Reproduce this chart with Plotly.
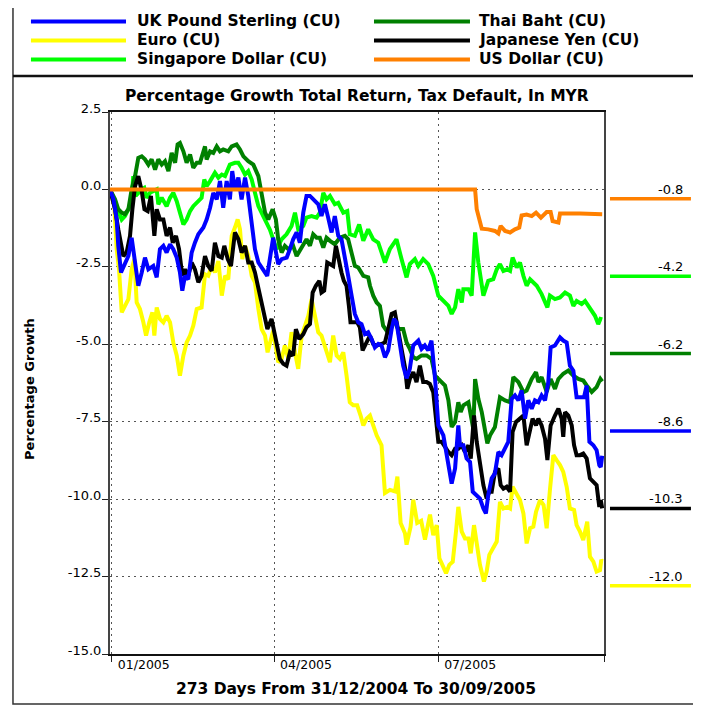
import plotly.graph_objects as go
import pandas as pd

START = pd.Timestamp("2004-12-31")

# ---- data (day offsets from 31/12/2004, percentage growth) ----
gbp_days = [0, 1.9, 3.7, 4.6, 6.1, 8.3, 10.2, 12, 13.9, 15.7, 17.6, 19.4, 21.3, 24, 25.9, 27.7, 29.6, 31.4, 33.3, 35.1, 37, 38.8, 40.1, 41.6, 43.4, 45.3, 47.1, 49, 51.8, 53.6, 55.5, 57.3, 59.2, 61, 62.8, 64.7, 66.5, 67.8, 69.3, 71.2, 73, 74.9, 76.7, 78.6, 80.4, 82.3, 85, 87.2,
            90.5, 93.3, 95.2, 98, 99.8, 101.6, 103.5, 105.3, 107.2, 109, 110.9, 112.7, 115.5, 117.3, 119.2, 121, 122.9, 124.7, 126.6, 128.4, 130.3, 132.1, 134, 135.8, 137.7, 139.5, 141.4, 143.2, 145.1, 146.9, 148.8, 150.6, 152.5, 154.3, 156.2, 157.5, 158.9, 160.8, 162.6, 164.5, 166.3, 168.2, 171, 172.8, 174.6, 176.5, 178.3,
            180.3, 182.1, 184.9, 186.7, 188.2, 189.5, 191.4, 193.2, 194.1, 196, 197.8, 199.7, 201.2, 203.4, 205.2, 207.1, 208.5, 209.8, 211.7, 213.5, 215.4, 217.2, 219.1, 220.9, 222.8, 224.6, 226.5, 228.3, 230.2, 232, 233.9, 235.7, 237.6, 239.4, 241.3, 243.1, 244.4, 246.8, 249.6, 251.4, 253.3, 255.1, 257, 258.8, 260.7, 262.9, 264.4, 265.9, 268.1, 269.9, 271.4, 272.2, 273]
gbp_vals = [0, -0.32, -0.97, -1.82, -2.68, -2.36, -2.15, -1.56, -2.36, -3.11, -2.68, -2.2, -2.58, -2.47, -2.84, -1.93, -1.82, -2.04, -1.77, -1.93, -2.2, -2.68, -3.27, -2.79, -2.9, -2.04, -1.72, -1.45, -1.23, -0.97, -0.59, -0.11, -0.32, 0.27, -0.59, 0.27, -0.32, 0.59, 0, 0.38, -0.32, 0.38, -0.21, -1.07, -1.93, -2.36, -2.58, -2.79,
            -1.56, -2.41, -2.25, -2.2, -1.93, -1.61, -1.39, -1.72, -0.75, -0.21, -0.21, -0.32, -0.48, -0.86, -0.48, -0.91, -1.39, -0.86, -1.5, -1.61, -2.15, -2.79, -3.43, -4.02, -4.29, -4.35, -4.67, -4.61, -4.83, -5.1, -4.99, -5.04, -5.42, -5.2, -4.51, -4.18, -4.29, -5.04, -5.69, -6.1, -5.79, -5.04, -4.88, -5.15, -5.04, -5.2, -4.88,
            -6.12, -7.62, -7.94, -8.58, -9.01, -9.5, -9.01, -7.62, -8.26, -8.26, -8.69, -8.8, -9.76, -9.87, -9.98, -10.3, -10.46, -9.87, -9.33, -9.17, -8.48, -8.58, -8.32, -8.15, -6.76, -6.65, -6.81, -6.49, -7.4, -6.81, -7.08, -6.81, -6.87, -6.65, -6.81, -6.22, -5.1, -5.04, -4.78, -4.88, -4.94, -5.69, -5.85, -6.71, -6.71, -6.71, -6.33, -8.15, -8.26, -8.42, -8.9, -8.96, -8.6]

eur_days = [0, 2.4, 3.7, 5, 6.5, 8.3, 10.2, 12, 13.5, 14.8, 16.6, 18.5, 20, 21.8, 23.5, 24.6, 25.9, 27.7, 29.6, 31.4, 33.3, 35.1, 37, 38.8, 40.7, 42.5, 44.4, 46.2, 48.1, 50.8, 52.7, 54.5, 56.4, 58.2, 60.1, 62, 63.8, 65.6, 67.5, 69.3, 70.8, 72.1, 73.4, 74.9, 76.7, 78.6, 80.4, 82.3, 84.1, 86, 87.4,
            90.5, 93.3, 95.2, 97, 98.9, 100.7, 102.6, 104.4, 106.3, 108.1, 110, 111.8, 113.7, 115.5, 117.3, 119.2, 121, 122, 123.8, 125.7, 127.5, 129.4, 131.2, 133, 134.9, 137.1, 139, 140.5, 142.3, 144.2, 146, 147.9, 150.6,
            152.5, 155.3, 158.1, 159.4, 161.2, 163.6, 164.5, 166.7, 168.2, 170.4, 172.6, 174.7, 177.5,
            179.3, 181.2, 182.7, 184.5, 186.4, 188.2, 190.1, 191.9, 193.2, 195.1, 196.9, 198.8, 200.1, 201.9, 203.4, 205.2, 207.4, 208.9, 210.4, 212.6, 214.5, 216.3, 218.2, 220.4, 221.9, 223.3, 225.6, 227.4, 229.3, 231.1, 233, 234.8, 236.3, 238.5, 240.5, 242.2, 244, 245.9, 247.7, 249.6, 251.4, 253.3, 255.1, 257.4, 258.8, 260.7, 262.5, 264.7, 266.2, 268.1, 269.9, 271.8, 272.5, 273]
eur_vals = [0, -0.54, -1.93, -2.58, -3.97, -3.76, -3.54, -2.58, -2.25, -3.65, -3.86, -4.29, -4.72, -4.29, -3.97, -4.72, -3.81, -4.18, -4.29, -4.08, -4.29, -4.94, -5.36, -6.01, -5.36, -4.94, -4.72, -4.4, -3.86, -3.81, -2.74, -2.79, -2.47, -2.68, -2.31, -3.43, -2.79, -2.9, -1.5, -1.23, -0.97, -1.29, -2.25, -1.82, -2.15, -2.79, -3.0, -3.86, -4.51, -4.72, -5.26,
            -4.56, -5.58, -5.47, -5.04, -5.47, -4.61, -5.26, -5.79, -4.72, -4.4, -4.08, -3.54, -4.08, -4.61, -4.72, -5.04, -5.36, -5.58, -4.72, -5.36, -5.47, -5.26, -6.01, -6.87, -6.97, -6.97, -7.3, -7.62, -7.4, -7.3, -7.62, -7.94, -8.26,
            -9.8, -9.7, -9.75, -9.27, -10.77, -11.1, -11.47, -10.9, -10.02, -10.77, -10.7, -11.31, -10.5,
            -11.16, -10.84, -11.91, -12.18, -12.39, -12.12, -12.02, -11.05, -10.25, -11.05, -11.27, -11.27, -11.75, -10.84, -11.37, -12.12, -12.66, -12.34, -11.8, -11.59, -11.37, -10.09, -10.3, -10.25, -10.3, -9.6, -9.87, -10.03, -10.46, -11.43, -10.94, -10.89, -10.41, -10.03, -10.19, -10.94, -9.71, -8.58, -8.74, -8.9, -9.12, -9.6, -10.3, -10.35, -10.84, -11.05, -11.32, -10.73, -11.86, -12.02, -12.34, -12.29, -11.96, -12.0]

sgd_days = [0, 2.8, 4.6, 6.5, 8.3, 10.2, 12, 12.9, 14.2, 15.7, 17.6, 19, 20.3, 22.2, 24, 25.9, 26.8, 28.7, 31.4, 33.3, 35.1, 37, 38.8, 40.7, 42.5, 44.4, 46.2, 48.1, 50.8, 52.3, 53.6, 55.5, 58.2, 60.1, 62, 63.8, 66.5, 69.3, 71.2, 73, 74.9, 76.7, 78.6, 80.4, 82.3, 85, 86.9,
            88.7, 92.4, 95.2, 97.9, 100.7, 102.6, 104.4, 107.2, 109, 111.8, 114.6, 116.4, 118.3, 120.1, 122, 124.7, 126.6, 129.4, 131.6, 133, 135.8, 138.2, 140.5, 143.2, 146, 148.8, 152.5, 155.2, 158.9, 161.7, 164.5, 166.3, 169.1, 171, 173.7, 176.5,
            179.3, 182.1, 184.9, 187.7, 189.5, 191.4, 193.2, 195.1, 196, 198.8, 200.6, 202.5, 204.3, 207.1, 209.8, 212.6, 214.5, 216.3, 218.2, 220.4, 221.9, 223.3, 225.6, 227.4, 229.3, 231.1, 233, 236.7, 239.4, 242.6, 244, 246.8, 249.6, 252.4, 255.1, 257, 258.8, 261.6, 263.5, 266.2, 269, 270.8, 272, 273]
sgd_vals = [0, -0.43, -0.75, -0.97, -0.86, -0.64, -0.32, 0.43, -0.21, -0.11, 0, 0.05, -0.27, -0.11, -0.05, 0, -0.48, -0.27, -0.54, -0.27, -0.11, -0.38, -0.75, -1.13, -0.97, -0.7, -0.54, -0.43, -0.27, 0.32, 0.11, 0.27, 0.54, 0.38, 0.48, 0.43, 0.8, 0.86, 0.86, 0.7, 0.48, 0.59, 0.32, -0.11, -0.54, -0.86, -1.07,
            -1.3, -1.93, -1.61, -1.45, -1.18, -0.75, -1.29, -1.18, -0.91, -0.86, -0.91, -0.75, -0.11, -0.32, -0.21, -0.48, -0.43, -0.75, -0.7, -1.45, -1.5, -1.13, -1.66, -1.29, -1.61, -1.72, -2.36, -1.93, -1.61, -2.25, -2.84, -2.41, -2.25, -2.47, -2.25, -2.41,
            -2.79, -3.43, -3.6, -3.76, -4.02, -3.81, -3.22, -3.65, -3.22, -3.22, -3.43, -1.39, -2.36, -3.43, -2.95, -2.9, -2.58, -2.41, -2.63, -2.58, -2.63, -2.2, -2.52, -2.36, -2.79, -3.11, -2.9, -3.11, -3.38, -3.81, -3.43, -3.54, -3.49, -3.33, -3.43, -3.76, -3.6, -3.7, -3.6, -3.86, -4.08, -4.35, -4.18, -4.2]

thb_days = [0, 2.8, 4.6, 6.5, 8.3, 10.2, 12, 13.9, 15.7, 17.6, 19.4, 21.3, 23.1, 25, 26.8, 28.7, 30.5, 32.4, 34.2, 36.1, 37.5, 38.8, 40.7, 42.5, 44.4, 46.2, 48.1, 49.9, 52.7, 53.6, 55.5, 57.3, 59.2, 61, 62.8, 65.6, 67.5, 70.2, 72.1, 74, 76.7, 79.5, 82.3, 84.1, 86, 87.8,
            90.2, 92, 93.3, 95.2, 97, 98.9, 101.6, 103.5, 105.3, 107.2, 109, 110.9, 112.7, 114.6, 116.4, 118.3, 120.1, 122, 124.7, 127.5, 130.3, 132.1, 134, 135.8, 137.7, 140.5, 143.2, 144.2, 146, 147.9, 149.7, 151.5, 153.4, 155.2, 157.1, 159.9, 162.6, 164.5, 166.3, 168.2, 170, 172.8, 175.6, 178.3,
            180.3, 183, 185.8, 187.7, 189.5, 191.4, 193.2, 194.5, 196, 198.8, 200.6, 201.5, 202.5, 204.3, 206.2, 209.3, 210.8, 213.5, 216.3, 219.1, 221.9, 223.7, 226.5, 229.3, 231.1, 233.9, 236.3, 237.6, 239.4, 242.2, 244.4, 246.8, 248.7, 251.4, 254.2, 257, 259.8, 262.5, 264.4, 267.2, 269.9, 272, 273]
thb_vals = [0, -0.32, -0.64, -0.75, -0.8, -0.64, 0, 0.43, 1.02, 1.07, 0.97, 0.8, 0.97, 0.64, 0.97, 0.8, 0.91, 0.59, 1.18, 0.86, 1.45, 1.5, 1.23, 0.86, 1.13, 0.7, 0.86, 0.86, 1.39, 0.97, 1.23, 1.18, 1.39, 1.23, 1.29, 1.23, 1.39, 1.45, 1.29, 1.07, 0.91, 0.8, 0.43, -0.21, -0.75, -0.97,
            -0.64, -0.97, -1.61, -2.04, -1.82, -1.93, -1.82, -2.15, -1.98, -1.82, -1.61, -1.82, -1.45, -1.56, -1.56, -1.88, -1.56, -1.66, -1.77, -1.56, -1.5, -1.61, -2.04, -2.47, -2.52, -2.79, -2.84, -3.11, -3.43, -3.65, -3.76, -4.4, -4.56, -4.56, -4.18, -4.51, -4.51, -4.94, -5.15, -5.42, -5.47, -5.36, -5.36, -5.47,
            -6.01, -6.17, -6.33, -6.81, -7.67, -7.51, -6.87, -7.19, -6.97, -6.87, -7.4, -7.73, -6.12, -6.76, -7.19, -8.2, -7.94, -7.67, -6.71, -6.81, -6.87, -6.06, -6.22, -6.54, -6.49, -6.12, -5.9, -6.22, -6.06, -6.54, -6.12, -6.44, -6.12, -5.95, -5.85, -6.01, -6.12, -6.17, -6.33, -6.54, -6.38, -6.12, -6.2]

jpy_days = [0, 2.8, 4.6, 6.1, 7.4, 9.2, 11.1, 12.4, 13.9, 15.7, 17.6, 19.1, 20.9, 22.7, 24.6, 25.9, 27.7, 29.6, 31.4, 33.3, 34.8, 36.6, 38.3, 40.1, 41.6, 43.4, 45.3, 47.1, 49, 50.8, 52.7, 54.5, 56.4, 58.2, 60.1, 62, 63.4, 65.3, 67.1, 69.3, 71.2, 73, 74.9, 76.7, 78.6, 80.4, 83.2, 85, 87.3,
            89.6, 91.5, 94.2, 96.1, 97.9, 99.8, 101.6, 103.1, 105, 107.2, 109, 110.9, 112.4, 114.2, 116.1, 117.3, 118.8, 120.5, 122, 123.8, 125.3, 126.6, 128.4, 129.7, 131.2, 132.5, 133.4, 134.9, 137.1, 138.6, 140.1, 142.3, 144.2, 146, 147.9, 150.6, 152.5, 154.3, 156.2, 158, 159.9, 161.7, 163.6, 164.9, 166.3, 168.2, 170, 171.9, 173.7, 175.6, 177.4,
            179.3, 180.8, 182.1, 184, 185.8, 187.7, 189.5, 191.4, 193.2, 195.1, 196.9, 198.8, 200.1, 201.9, 203.4, 205.2, 207.1, 208.9, 210.4, 211.7, 213.5, 215.4, 216.7, 218.2, 220, 221.9, 223.3, 225.2, 227.4, 229.3, 231.1, 233, 234.4, 236.3, 237.6, 239.4, 241.3, 242.6, 244.4, 246.8, 248.7, 250.5, 251.4, 252.4, 254.2, 256.1, 257.4, 258.8, 260.7, 262.5, 264.4, 266.2, 268.1, 269.9, 271.4, 272.2, 273]
jpy_vals = [0, -0.64, -1.29, -1.72, -2.15, -2.04, -1.5, -0.64, 0.11, 0.43, -0.05, -0.64, -0.7, -0.21, -1.5, -0.64, -0.97, -0.97, -1.5, -1.23, -1.72, -1.5, -1.93, -2.79, -2.58, -2.79, -2.36, -2.58, -3.0, -2.79, -2.15, -2.47, -2.63, -1.72, -2.15, -2.2, -1.82, -2.25, -2.47, -1.39, -1.61, -2.04, -1.82, -2.36, -2.36, -2.68, -3.43, -3.97, -4.51,
            -4.18, -4.72, -5.47, -5.63, -5.69, -5.26, -5.36, -4.51, -4.83, -4.67, -4.45, -4.35, -3.33, -3.11, -2.95, -3.33, -3.27, -2.36, -2.41, -2.47, -1.82, -2.25, -2.68, -2.95, -3.11, -3.76, -4.29, -4.29, -4.29, -4.45, -5.2, -4.94, -4.72, -4.99, -5.04, -4.99, -4.94, -4.51, -4.02, -3.97, -4.51, -5.15, -5.74, -6.44, -6.12, -5.9, -6.22, -5.69, -6.22, -6.22, -6.28,
            -6.55, -7.4, -8.15, -8.15, -8.32, -8.48, -8.58, -8.37, -8.37, -8.26, -8.48, -8.26, -8.69, -7.3, -8.15, -8.9, -9.55, -9.98, -9.76, -9.76, -9.12, -9.01, -9.55, -9.66, -9.6, -9.76, -7.83, -7.51, -7.4, -7.3, -8.26, -7.83, -7.4, -7.62, -7.4, -7.62, -8.05, -8.74, -7.62, -7.3, -7.08, -7.4, -7.99, -7.19, -7.3, -7.62, -8.26, -8.58, -8.58, -8.53, -8.69, -9.33, -9.44, -9.55, -10.25, -10.03, -10.3]

usd_days = [0, 202.5, 203.4, 206.2, 209.8, 213.5, 215.4, 216.7, 219.1, 221.9, 224.6, 227, 228.3, 231.1, 233.9, 236.3, 239, 242.2, 244.4, 245.5, 248.7, 249.6, 260.7, 273]
usd_vals = [0, 0, -0.64, -1.27, -1.29, -1.34, -1.42, -1.18, -1.34, -1.39, -1.29, -1.23, -0.84, -0.81, -0.86, -0.75, -0.91, -0.73, -0.73, -1.02, -1.07, -0.78, -0.78, -0.8]

series_names = ["UK Pound Sterling (CU)", "Euro (CU)", "Singapore Dollar (CU)",
                "Thai Baht (CU)", "Japanese Yen (CU)", "US Dollar (CU)"]
series_colors = ["#0000FF", "#FFFF00", "#00FF00", "#008000", "#000000", "#FF8000"]
series_days = [gbp_days, eur_days, sgd_days, thb_days, jpy_days, usd_days]
series_vals = [gbp_vals, eur_vals, sgd_vals, thb_vals, jpy_vals, usd_vals]

y_tick_vals = [-15.0, -12.5, -10.0, -7.5, -5.0, -2.5, 0.0, 2.5]
y_tick_labels = ["-15.0", "-12.5", "-10.0", "-7.5", "-5.0", "-2.5", "0.0", "2.5"]
x_tick_vals = ["2005-01-01", "2005-04-01", "2005-07-01", "2005-10-01"]
x_tick_labels = ["01/2005", "04/2005", "07/2005", ""]

FONT = "DejaVu Sans"
Y_MIN, Y_MAX = -15.0, 2.5


def to_dates(days):
    return [START + pd.Timedelta(days=d) for d in days]


def ypaper(v):
    return (v - Y_MIN) / (Y_MAX - Y_MIN)


fig = go.Figure()
draw_order = [1, 2, 3, 4, 0, 5]
for i in draw_order:
    fig.add_trace(go.Scatter(
        x=to_dates(series_days[i]), y=series_vals[i], mode="lines",
        name=series_names[i], line=dict(color=series_colors[i], width=4),
        showlegend=False))

shapes = []
annotations = []

# outer frame and legend separator
shapes.append(dict(type="rect", xref="paper", yref="paper", x0=-0.1964, x1=1.1862,
                   y0=-0.0923, y1=1.1974, line=dict(color="#333333", width=1.5)))
shapes.append(dict(type="line", xref="paper", yref="paper", x0=-0.1964, x1=1.1862,
                   y0=1.0664, y1=1.0664, line=dict(color="#111111", width=2.5)))

# custom legend (two columns)
leg_rows = [1.1670, 1.1320, 1.0970]
leg_cols = [(-0.160, 0.0324, 0.0506), (0.5344, 0.7287, 0.7429)]
for k in range(6):
    col = k // 3
    row = k % 3
    x0, x1, xt = leg_cols[col]
    yy = leg_rows[row]
    shapes.append(dict(type="line", xref="paper", yref="paper", x0=x0, x1=x1, y0=yy, y1=yy,
                       line=dict(color=series_colors[k], width=4)))
    annotations.append(dict(xref="paper", yref="paper", x=xt, y=yy, xanchor="left", yanchor="middle",
                            text="<b>%s</b>" % series_names[k], showarrow=False,
                            font=dict(family=FONT, size=15.5, color="black")))

# end value labels on the right, evenly stacked in descending order
finals = [v[-1] for v in series_vals]
order = sorted(range(6), key=lambda i: -finals[i])
for rank, i in enumerate(order):
    yp = ypaper(-0.3 - 2.5 * rank)
    shapes.append(dict(type="line", xref="paper", yref="paper", x0=1.0121, x1=1.176, y0=yp, y1=yp,
                       line=dict(color=series_colors[i], width=3.5)))
    annotations.append(dict(xref="paper", yref="paper", x=1.164, y=yp, xanchor="right", yanchor="bottom",
                            text="%.1f" % finals[i], showarrow=False,
                            font=dict(family=FONT, size=13, color="black")))

# titles
annotations.append(dict(xref="paper", yref="paper", x=0.5, y=1.0295, xanchor="center", yanchor="middle",
                        text="<b>Percentage Growth Total Return, Tax Default, In MYR</b>", showarrow=False,
                        font=dict(family=FONT, size=15.5, color="black")))
annotations.append(dict(xref="paper", yref="paper", x=-0.162, y=0.489, xanchor="center", yanchor="middle",
                        text="<b>Percentage Growth</b>", textangle=-90, showarrow=False,
                        font=dict(family=FONT, size=13, color="black")))
annotations.append(dict(xref="paper", yref="paper", x=0.497, y=-0.0646, xanchor="center", yanchor="middle",
                        text="<b>273 Days From 31/12/2004 To 30/09/2005</b>", showarrow=False,
                        font=dict(family=FONT, size=15.5, color="black")))

# the page adds an 8px body margin, so the figure is drawn 8px smaller
fig.update_layout(
    width=693, height=700,
    margin=dict(l=102, r=97, t=104, b=54),
    paper_bgcolor="white", plot_bgcolor="white",
    showlegend=False,
    font=dict(family=FONT, color="black"),
    shapes=shapes, annotations=annotations,
)
fig.update_xaxes(
    type="date", range=["2004-12-31", "2005-10-01"],
    tickvals=x_tick_vals, ticktext=x_tick_labels,
    ticks="outside", ticklen=6, tickcolor="#222222", tickwidth=1,
    showgrid=True, gridcolor="#555555", griddash="2px,4px", gridwidth=1,
    showline=True, linecolor="#111111", linewidth=1.5, mirror=True,
    zeroline=False, tickfont=dict(family=FONT, size=12.5, color="black"),
    ticklabelshift=32, ticklabelstandoff=-8,
)
fig.update_yaxes(
    range=[Y_MIN, Y_MAX], tickvals=y_tick_vals, ticktext=y_tick_labels,
    ticks="outside", ticklen=6, tickcolor="#222222", tickwidth=1,
    showgrid=True, gridcolor="#555555", griddash="2px,4px", gridwidth=1,
    showline=True, linecolor="#444444", linewidth=2, mirror=True,
    zeroline=False, tickfont=dict(family=FONT, size=13, color="black"),
    ticklabelshift=-4, ticklabelstandoff=-2,
)

fig.write_html("out.html")
